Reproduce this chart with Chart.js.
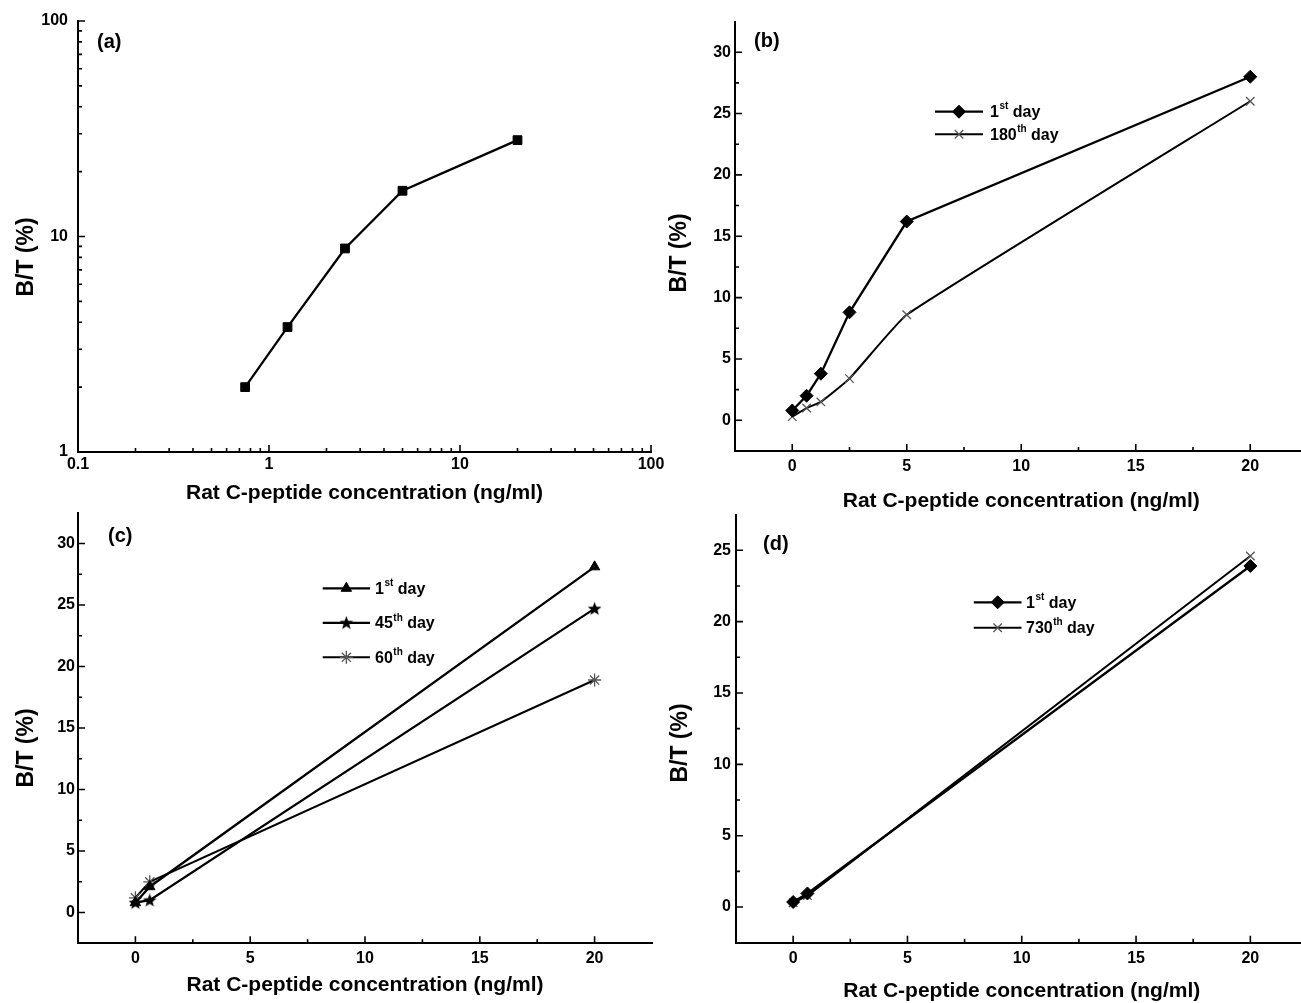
<!DOCTYPE html>
<html>
<head>
<meta charset="utf-8">
<script src="https://cdn.jsdelivr.net/npm/chart.js@4.4.1/dist/chart.umd.min.js"></script>
<style>
html, body { margin: 0; padding: 0; background: #fff; overflow: hidden; width: 1301px; height: 1003px; }
canvas { position: absolute; }
</style>
</head>
<body>
<canvas id="chartA" width="670" height="510" style="left:0px;top:0px;width:670px;height:510px"></canvas>
<canvas id="chartB" width="660" height="515" style="left:655px;top:0px;width:660px;height:515px"></canvas>
<canvas id="chartC" width="670" height="503" style="left:0px;top:500px;width:670px;height:503px"></canvas>
<canvas id="chartD" width="660" height="506" style="left:655px;top:500px;width:660px;height:506px"></canvas>
<script>
// ---- data ----
// (a) standard curve, log-log
const aConc = [0.75, 1.25, 2.5, 5, 20];
const aBT = [2.0, 3.8, 8.8, 16.3, 28.0];
// (b)
const bConc = [0, 0.625, 1.25, 2.5, 5, 20];
const bDay1 = [0.8, 2.0, 3.8, 8.8, 16.2, 28.0];
const bDay180 = [0.3, 1.0, 1.5, 3.4, 8.6, 26.0];
// (c)
const cConc = [0, 0.625, 20];
const cDay1 = [0.8, 2.1, 28.1];
const cDay45 = [0.8, 1.0, 24.7];
const cDay60 = [1.2, 2.5, 18.9];
// (d)
const dConc = [0, 0.625, 20];
const dDay1 = [0.35, 0.95, 23.9];
const dDay730 = [0.3, 0.8, 24.6];

// ticks
const logXMajor = [0.1, 1, 10, 100];
const logXMinor = [0.2, 0.3, 0.4, 0.5, 0.6, 0.7, 0.8, 0.9, 2, 3, 4, 5, 6, 7, 8, 9, 20, 30, 40, 50, 60, 70, 80, 90];
const logYMajor = [1, 10, 100];
const logYMinor = [2, 3, 4, 5, 6, 7, 8, 9, 20, 30, 40, 50, 60, 70, 80, 90];
const linXMajor = [0, 5, 10, 15, 20];
const linXMinor = [2.5, 7.5, 12.5, 17.5];
const bcYMajor = [0, 5, 10, 15, 20, 25, 30];
const bcYMinor = [2.5, 7.5, 12.5, 17.5, 22.5, 27.5];
const dYMajor = [0, 5, 10, 15, 20, 25];
const dYMinor = [2.5, 7.5, 12.5, 17.5, 22.5];

const xTitle = 'Rat C-peptide concentration (ng/ml)';
const yTitle = 'B/T (%)';

const FONT = '"Liberation Sans", Arial, Helvetica, sans-serif';
Chart.defaults.font.family = FONT;
Chart.defaults.color = '#000';

// filled star marker for the 45th day series
const starImg = document.createElement('canvas');
starImg.width = 15; starImg.height = 15;
(function () {
  const g = starImg.getContext('2d');
  g.fillStyle = '#000';
  g.beginPath();
  for (let i = 0; i < 10; i++) {
    const r = i % 2 === 0 ? 7.2 : 3;
    const ang = -Math.PI / 2 + i * Math.PI / 5;
    const px = 7.5 + r * Math.cos(ang), py = 8 + r * Math.sin(ang);
    if (i === 0) g.moveTo(px, py); else g.lineTo(px, py);
  }
  g.closePath();
  g.fill();
})();

function pts(xs, ys) { return xs.map((x, i) => ({ x: x, y: ys[i] })); }

// ticks drawn inward like the original plot
const innerTicks = {
  id: 'innerTicks',
  beforeDatasetsDraw(chart, args, o) {
    const ctx = chart.ctx, xs = chart.scales.x, ys = chart.scales.y, a = chart.chartArea;
    ctx.save();
    ctx.strokeStyle = '#000';
    ctx.lineWidth = 1.6;
    ctx.beginPath();
    o.xMajor.forEach(v => { const p = xs.getPixelForValue(v); ctx.moveTo(p, a.bottom); ctx.lineTo(p, a.bottom - 7); });
    o.xMinor.forEach(v => { const p = xs.getPixelForValue(v); ctx.moveTo(p, a.bottom); ctx.lineTo(p, a.bottom - 4); });
    o.yMajor.forEach(v => { const p = ys.getPixelForValue(v); ctx.moveTo(a.left, p); ctx.lineTo(a.left + 7, p); });
    o.yMinor.forEach(v => { const p = ys.getPixelForValue(v); ctx.moveTo(a.left, p); ctx.lineTo(a.left + 4, p); });
    ctx.stroke();
    ctx.restore();
  }
};

// panel tag, y title and the small legend box
const panelText = {
  id: 'panelText',
  afterDraw(chart, args, o) {
    const ctx = chart.ctx;
    ctx.save();
    ctx.fillStyle = '#000';
    ctx.textBaseline = 'middle';
    ctx.textAlign = 'left';
    ctx.font = 'bold 20px ' + FONT;
    ctx.fillText(o.tag, o.tagX, o.tagY);

    ctx.save();
    ctx.translate(o.ytX, o.ytY);
    ctx.rotate(-Math.PI / 2);
    ctx.textAlign = 'center';
    ctx.font = 'bold 23px ' + FONT;
    ctx.fillText(yTitle, 0, 0);
    ctx.restore();

    if (o.legend) {
      const L = o.legend;
      chart.data.datasets.forEach((ds, i) => {
        const y = L.y0 + i * L.dy;
        ctx.strokeStyle = '#000';
        ctx.lineWidth = ds.borderWidth;
        ctx.beginPath();
        ctx.moveTo(L.x0, y); ctx.lineTo(L.x1, y);
        ctx.stroke();
        ctx.fillStyle = ds.pointBackgroundColor;
        ctx.strokeStyle = ds.pointBorderColor;
        ctx.lineWidth = ds.pointBorderWidth;
        Chart.helpers.drawPoint(ctx, {
          pointStyle: ds.pointStyle, radius: ds.pointRadius, rotation: 0,
          borderWidth: ds.pointBorderWidth
        }, (L.x0 + L.x1) / 2, y);
        const m = ds.label.match(/^(\d+)(st|nd|rd|th)(.*)$/);
        ctx.fillStyle = '#000';
        let x = L.tx;
        ctx.font = 'bold 16px ' + FONT;
        ctx.fillText(m[1], x, y + 1);
        x += ctx.measureText(m[1]).width;
        ctx.font = 'bold 10px ' + FONT;
        ctx.fillText(m[2], x + 0.5, y - 5);
        x += ctx.measureText(m[2]).width + 0.5;
        ctx.font = 'bold 16px ' + FONT;
        ctx.fillText(m[3], x, y + 1);
      });
    }
    ctx.restore();
  }
};

function series(label, xs, ys, style, extra) {
  return Object.assign({
    label: label,
    data: pts(xs, ys),
    borderColor: '#000',
    borderWidth: 2.3,
    pointStyle: style,
    pointRadius: 6,
    pointHoverRadius: 6,
    pointBackgroundColor: '#000',
    pointBorderColor: '#000',
    pointBorderWidth: 1,
    tension: 0,
    fill: false
  }, extra || {});
}

function makeChart(id, cfg) {
  const isLog = cfg.log;
  new Chart(document.getElementById(id), {
    type: 'line',
    data: { datasets: cfg.datasets },
    options: {
      responsive: false,
      animation: false,
      devicePixelRatio: 1,
      events: [],
      layout: { padding: cfg.pad },
      plugins: {
        legend: { display: false },
        tooltip: { enabled: false },
        innerTicks: cfg.ticks,
        panelText: cfg.text
      },
      scales: {
        x: {
          type: isLog ? 'logarithmic' : 'linear',
          min: cfg.xMin, max: cfg.xMax,
          afterBuildTicks: s => { s.ticks = cfg.ticks.xMajor.map(v => ({ value: v })); },
          afterFit: s => { s.height = cfg.xH; },
          grid: { display: false, drawTicks: false },
          border: { display: true, color: '#000', width: 2 },
          ticks: {
            padding: cfg.xPad, maxRotation: 0, autoSkip: false,
            font: { size: 16, weight: 'bold' }, color: '#000',
            callback: v => String(v)
          },
          title: {
            display: true, text: xTitle, color: '#000',
            font: { size: 21, weight: 'bold' }, padding: { top: 0, bottom: 0 }
          }
        },
        y: {
          type: isLog ? 'logarithmic' : 'linear',
          min: cfg.yMin, max: cfg.yMax,
          afterBuildTicks: s => { s.ticks = cfg.ticks.yMajor.map(v => ({ value: v })); },
          afterFit: s => { s.width = cfg.yW; },
          grid: { display: false, drawTicks: false },
          border: { display: true, color: '#000', width: 2 },
          ticks: {
            padding: cfg.yPad, autoSkip: false,
            font: { size: 16, weight: 'bold' }, color: '#000',
            callback: v => String(v)
          },
          title: { display: false }
        }
      }
    },
    plugins: [innerTicks, panelText]
  });
}

// (a)
makeChart('chartA', {
  log: true, xMin: 0.1, xMax: 100, yMin: 1, yMax: 100,
  pad: { left: 0, top: 21, right: 19, bottom: 4 }, yW: 78, xH: 54, xPad: 3, yPad: 10,
  datasets: [series('1st day', aConc, aBT, 'rect', { pointRadius: 6.2 })],
  ticks: { xMajor: logXMajor, xMinor: logXMinor, yMajor: logYMajor, yMinor: logYMinor },
  text: { tag: '(a)', tagX: 97, tagY: 42, ytX: 27, ytY: 257 }
});

// (b)
makeChart('chartB', {
  log: false, xMin: -2.5, xMax: 22.5, yMin: -2.5, yMax: 32.5,
  pad: { left: 0, top: 21.5, right: 5, bottom: 1 }, yW: 80, xH: 63, xPad: 6, yPad: 4,
  datasets: [
    series('1st day', bConc, bDay1, 'rectRot', { pointRadius: 6.5 }),
    series('180th day', bConc, bDay180, 'crossRot', {
      borderWidth: 2, pointRadius: 6, pointBorderColor: '#555', pointBackgroundColor: '#555',
      pointBorderWidth: 1.3, tension: 0.12
    })
  ],
  ticks: { xMajor: linXMajor, xMinor: linXMinor, yMajor: bcYMajor, yMinor: bcYMinor },
  text: { tag: '(b)', tagX: 99, tagY: 41, ytX: 25, ytY: 253,
          legend: { x0: 280, x1: 328, tx: 335, y0: 111.7, dy: 22.6 } }
});

// (c)
makeChart('chartC', {
  log: false, xMin: -2.5, xMax: 22.5, yMin: -2.5, yMax: 32.5,
  pad: { left: 0, top: 12.7, right: 18, bottom: 5 }, yW: 78, xH: 54.7, xPad: 6, yPad: 3,
  datasets: [
    series('1st day', cConc, cDay1, 'triangle', { pointRadius: 6 }),
    series('45th day', cConc, cDay45, starImg, { pointRadius: 7 }),
    series('60th day', cConc, cDay60, 'star', {
      borderWidth: 2, pointRadius: 6.5, pointBorderColor: '#555', pointBackgroundColor: '#555', pointBorderWidth: 1.3
    })
  ],
  ticks: { xMajor: linXMajor, xMinor: linXMinor, yMajor: bcYMajor, yMinor: bcYMinor },
  text: { tag: '(c)', tagX: 108, tagY: 36, ytX: 27, ytY: 248,
          legend: { x0: 322.7, x1: 370, tx: 375, y0: 88.3, dy: 34.5 } }
});

// (d)
makeChart('chartD', {
  log: false, xMin: -2.5, xMax: 22.5, yMin: -2.5, yMax: 27.5,
  pad: { left: 0, top: 12.7, right: 5, bottom: 2 }, yW: 81, xH: 61.3, xPad: 6, yPad: 5,
  datasets: [
    series('1st day', dConc, dDay1, 'rectRot', { pointRadius: 6.5 }),
    series('730th day', dConc, dDay730, 'crossRot', {
      borderWidth: 2, pointRadius: 6, pointBorderColor: '#555', pointBackgroundColor: '#555', pointBorderWidth: 1.3
    })
  ],
  ticks: { xMajor: linXMajor, xMinor: linXMinor, yMajor: dYMajor, yMinor: dYMinor },
  text: { tag: '(d)', tagX: 108, tagY: 44, ytX: 26, ytY: 243,
          legend: { x0: 318.8, x1: 366.5, tx: 371, y0: 102.3, dy: 25.4 } }
});
</script>
</body>
</html>
